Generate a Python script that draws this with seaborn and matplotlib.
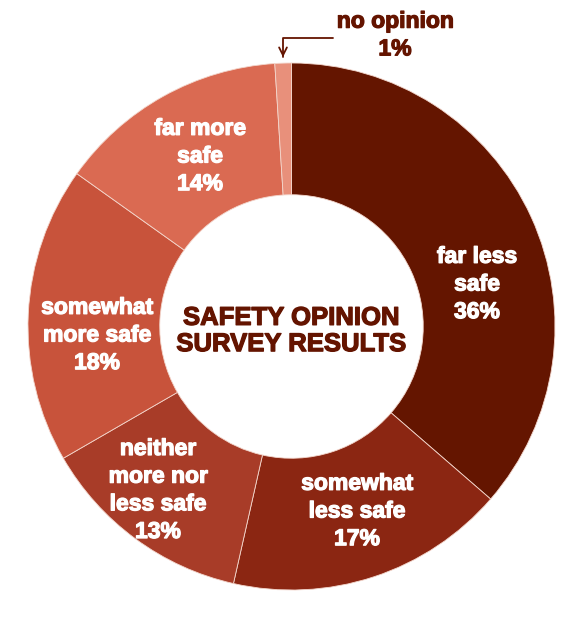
import matplotlib.pyplot as plt
import matplotlib.patheffects as pe
import seaborn as sns

categories = ['far less\nsafe', 'somewhat\nless safe', 'neither\nmore nor\nless safe',
              'somewhat\nmore safe', 'far more\nsafe', 'no opinion']
shares = [36, 17, 13, 18, 14, 1]
colors = ['#641500', '#8b2612', '#a83c28', '#c8533b', '#da6a52', '#e8907b']
dark = '#641400'

# label centres in pixels (x from left, y from top)
label_pos = [(477, 284), (357, 511), (158, 490), (97, 335), (200, 156)]

W, H = 581, 617
cx, cy, R = 291.5, 326.5, 263.5

sns.set_theme(style='white')
plt.rcParams['font.family'] = ['Liberation Sans', 'DejaVu Sans']

fig = plt.figure(figsize=(W / 100, H / 100), dpi=100)
ax = fig.add_axes([0, 0, 1, 1])

ax.pie(shares, colors=colors, startangle=90, counterclock=False,
       center=(cx, H - cy), radius=R, frame=True,
       wedgeprops=dict(width=R * 0.5, edgecolor='#f3d6cc', linewidth=0.6))
ax.set_xlim(0, W)
ax.set_ylim(0, H)
ax.set_aspect('equal')
ax.axis('off')

def heavy(c):
    return [pe.withStroke(linewidth=0.9, foreground=c)]

for (x, y), cat, s in zip(label_pos, categories, shares):
    ax.text(x, H - y, f'{cat}\n{s}%', ha='center', va='center', color='white',
            fontsize=16.5, fontweight='bold', linespacing=1.26,
            path_effects=heavy('white'))

ax.text(395, H - 35, f'{categories[-1]}\n{shares[-1]}%', ha='center', va='center',
        color=dark, fontsize=16.5, fontweight='bold', linespacing=1.26,
        path_effects=heavy(dark))
ax.plot([333, 283, 283], [H - 38, H - 38, H - 57], color=dark, lw=1.3)
ax.annotate('', xy=(283, H - 60), xytext=(283, H - 50),
            arrowprops=dict(arrowstyle='->', color=dark, lw=1.3,
                            mutation_scale=14))

ax.text(cx, H - 331, 'SAFETY OPINION\nSURVEY RESULTS', ha='center', va='center',
        color=dark, fontsize=18.5, fontweight='bold', linespacing=1.12,
        path_effects=heavy(dark))

fig.savefig('out.png', dpi=100, facecolor='white')
